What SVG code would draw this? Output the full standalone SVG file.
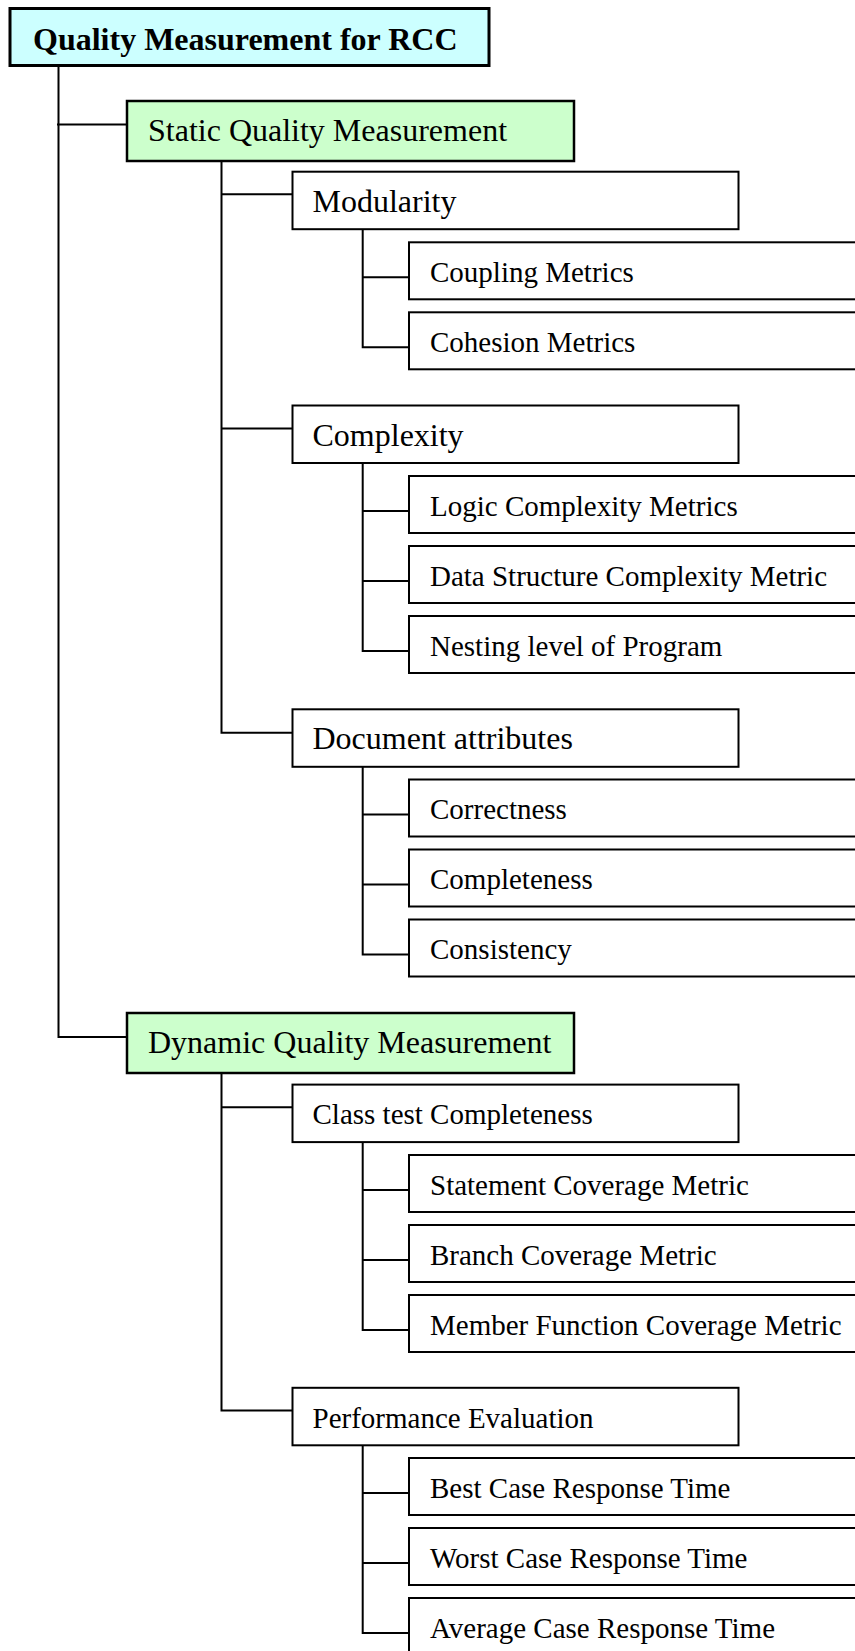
<svg xmlns="http://www.w3.org/2000/svg" width="855" height="1651" viewBox="0 0 855 1651">
<style>
.root{fill:#CCFFFF;stroke:#000;stroke-width:3}
.l1{fill:#CCFFCC;stroke:#000;stroke-width:2.5}
.box{fill:#fff;stroke:#000;stroke-width:2}
.t{font-family:"Liberation Serif","Times New Roman",serif;fill:#000}
.tb{font-size:32px;font-weight:bold}
.t32{font-size:32px}
.t29{font-size:29px}
.conn path{fill:none;stroke:#000;stroke-width:2}
</style>
<rect x="0" y="0" width="855" height="1651" fill="#fff"/>
<g class="conn" id="connectors">
<path d="M58.5,67 V1037 H127 M57,124.5 H127"/>
<path d="M221.5,161 V732.7 H292 M221.5,194.3 H292 M221.5,428.6 H292"/>
<path d="M362.7,229.3 V347.3 H409 M362.7,277.3 H409"/>
<path d="M362.7,463 V651 H409 M362.7,511 H409 M362.7,581 H409"/>
<path d="M362.7,767 V954.5 H409 M362.7,814.5 H409 M362.7,884.5 H409"/>
<path d="M221.5,1073 V1410.4 H292 M221.5,1107.2 H292"/>
<path d="M362.7,1142 V1330 H409 M362.7,1190 H409 M362.7,1260 H409"/>
<path d="M362.7,1445 V1633 H409 M362.7,1493 H409 M362.7,1563 H409"/>
</g>
<g id="n-root"><rect class="root" x="10" y="8.5" width="479" height="57"/><text class="t tb" x="33" y="49.5">Quality Measurement for RCC</text></g>
<g id="n-static"><rect class="l1" x="127" y="101" width="447" height="60"/><text class="t t32" x="148" y="141">Static Quality Measurement</text></g>
<g id="n-modularity"><rect class="box" x="292.5" y="171.7" width="446" height="57.5"/><text class="t t32" x="312.5" y="211.7">Modularity</text></g>
<g id="n-coupling"><rect class="box" x="409" y="242.3" width="460" height="57"/><text class="t t29" x="430" y="281.7">Coupling Metrics</text></g>
<g id="n-cohesion"><rect class="box" x="409" y="312.3" width="460" height="57"/><text class="t t29" x="430" y="351.7">Cohesion Metrics</text></g>
<g id="n-complexity"><rect class="box" x="292.5" y="405.5" width="446" height="57.5"/><text class="t t32" x="312.5" y="445.5">Complexity</text></g>
<g id="n-logic"><rect class="box" x="409" y="476" width="460" height="57"/><text class="t t29" x="430" y="515.5">Logic Complexity Metrics</text></g>
<g id="n-data"><rect class="box" x="409" y="546" width="460" height="57"/><text class="t t29" x="430" y="585.5">Data Structure Complexity Metric</text></g>
<g id="n-nesting"><rect class="box" x="409" y="616" width="460" height="57"/><text class="t t29" x="430" y="655.5">Nesting level of Program</text></g>
<g id="n-document"><rect class="box" x="292.5" y="709.3" width="446" height="57.5"/><text class="t t32" x="312.5" y="749.3">Document attributes</text></g>
<g id="n-correctness"><rect class="box" x="409" y="779.5" width="460" height="57"/><text class="t t29" x="430" y="819">Correctness</text></g>
<g id="n-completeness"><rect class="box" x="409" y="849.5" width="460" height="57"/><text class="t t29" x="430" y="889">Completeness</text></g>
<g id="n-consistency"><rect class="box" x="409" y="919.5" width="460" height="57"/><text class="t t29" x="430" y="959">Consistency</text></g>
<g id="n-dynamic"><rect class="l1" x="127" y="1013" width="447" height="60"/><text class="t t32" x="148" y="1053">Dynamic Quality Measurement</text></g>
<g id="n-classtest"><rect class="box" x="292.5" y="1084.6" width="446" height="57.5"/><text class="t t29" x="312.5" y="1124">Class test Completeness</text></g>
<g id="n-statement"><rect class="box" x="409" y="1155" width="460" height="57"/><text class="t t29" x="430" y="1194.5">Statement Coverage Metric</text></g>
<g id="n-branch"><rect class="box" x="409" y="1225" width="460" height="57"/><text class="t t29" x="430" y="1264.5">Branch Coverage Metric</text></g>
<g id="n-member"><rect class="box" x="409" y="1295" width="460" height="57"/><text class="t t29" x="430" y="1334.5">Member Function Coverage Metric</text></g>
<g id="n-performance"><rect class="box" x="292.5" y="1387.8" width="446" height="57.5"/><text class="t t29" x="312.5" y="1427.5">Performance Evaluation</text></g>
<g id="n-best"><rect class="box" x="409" y="1458" width="460" height="57"/><text class="t t29" x="430" y="1497.5">Best Case Response Time</text></g>
<g id="n-worst"><rect class="box" x="409" y="1528" width="460" height="57"/><text class="t t29" x="430" y="1567.5">Worst Case Response Time</text></g>
<g id="n-average"><rect class="box" x="409" y="1598" width="460" height="57"/><text class="t t29" x="430" y="1637.5">Average Case Response Time</text></g>
</svg>
